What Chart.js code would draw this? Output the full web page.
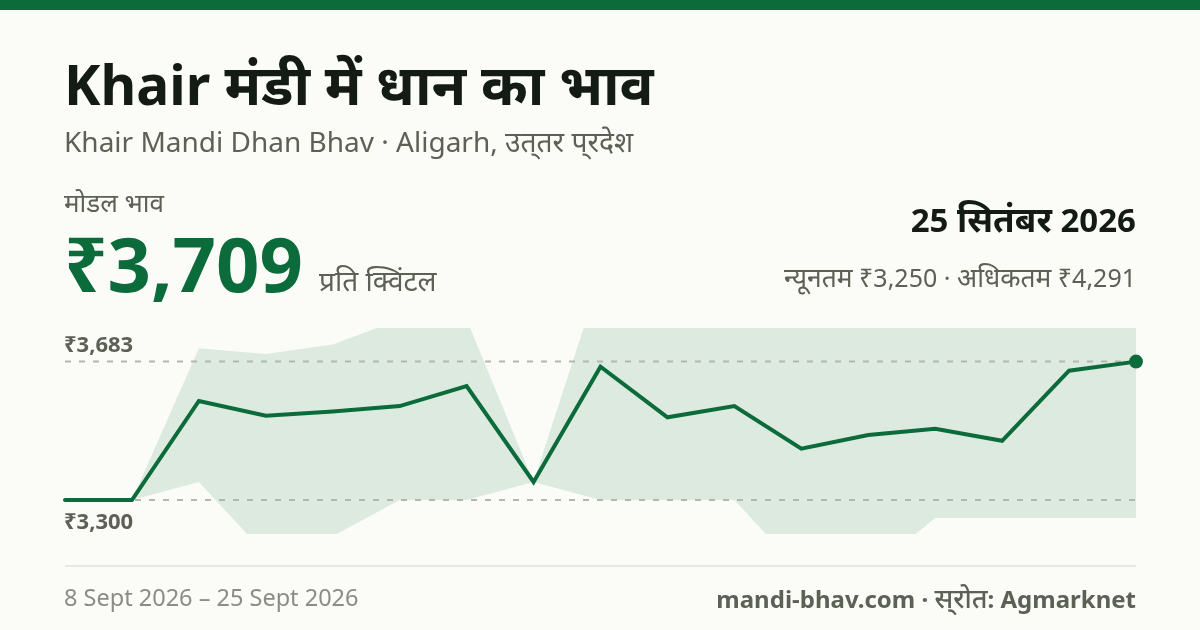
<!DOCTYPE html>
<html lang="hi">
<head>
<meta charset="utf-8">
<script src="https://cdn.jsdelivr.net/npm/chart.js@4"></script>
<style>
  html, body { margin: 0; padding: 0; }
  body { width: 1200px; height: 630px; background: #fbfcf8; position: relative; overflow: hidden; font-family: "Noto Sans", "Noto Sans Devanagari", sans-serif; }
  .abs { position: absolute; white-space: nowrap; line-height: 1; }
  #topbar { position: absolute; left: 0; top: 0; width: 1200px; height: 10px; background: #0b6b3a; }
  #wrap { position: absolute; left: 0; top: 0; width: 1200px; height: 630px; }
  #rule { position: absolute; left: 65px; top: 565px; width: 1071px; height: 2px; background: #e6e8e2; }
</style>
</head>
<body>
<div id="topbar"></div>
<div id="wrap"><canvas id="priceChart"></canvas></div>
<div class="abs" style="left:64px;top:56px;font-size:55px;font-weight:700;color:#141a14">Khair <span style="font-size:56.4px">मंडी में धान का भाव</span></div>
<div class="abs" style="left:64px;top:127px;font-size:28px;color:#5c6055">Khair Mandi Dhan Bhav · Aligarh, <span style="font-size:28.2px">उत्&zwnj;तर प्&zwnj;रदेश</span></div>
<div class="abs" style="left:64px;top:189px;font-size:26px;color:#5c6055">मोडल भाव</div>
<div class="abs" style="left:64px;top:225px;font-size:76px;font-weight:700;color:#0b6b3a">₹3,709</div>
<div class="abs" style="left:319px;top:266px;font-size:28px;color:#5c6055">प्रति क्विंटल</div>
<div class="abs" style="right:64px;top:201px;font-size:33px;font-weight:700;color:#141a14">25 <span style="font-size:35px">सितंबर</span> 2026</div>
<div class="abs" style="right:64px;top:264px;font-size:25px;color:#5c6055"><span style="font-size:26.4px">न्यूनतम</span> ₹3,250 · <span style="font-size:26.4px">अधिकतम</span> ₹4,291</div>
<div class="abs" style="left:64px;top:332px;font-size:22px;font-weight:700;color:#5c6055">₹3,683</div>
<div class="abs" style="left:64px;top:509px;font-size:22px;font-weight:700;color:#5c6055">₹3,300</div>
<div id="rule"></div>
<div class="abs" style="left:64px;top:586px;font-size:23.5px;color:#8a8d85">8 Sept 2026 – 25 Sept 2026</div>
<div class="abs" style="right:64px;top:584px;font-size:24px;font-weight:700;color:#5c6055">mandi-bhav.com · <span style="font-size:27px;font-weight:500">स्&zwnj;रोत</span>: Agmarknet</div>
<script>
// एक दिन का डेटा नहीं है, इसलिए 17 तारीखें
const dates = ['8 Sept','9 Sept','10 Sept','11 Sept','12 Sept','13 Sept','15 Sept','16 Sept','17 Sept','18 Sept','19 Sept','20 Sept','21 Sept','22 Sept','23 Sept','24 Sept','25 Sept'];
const modalPrice = [3300,3300,3574,3533,3545,3560,3615,3350,3669,3529,3560,3442,3480,3497,3464,3658,3683];
const minPrice = [3300,3300,3350,3150,3200,3300,3300,3350,3300,3300,3300,3100,3100,3250,3250,3250,3250];
const maxPrice = [3300,3300,3720,3704,3730,3800,3800,3350,3920,3900,3950,3900,3900,4000,4000,4200,4291];
const lowRef = dates.map(() => 3300);
const highRef = dates.map(() => 3683);
const yMin = 3206;
const yMax = 3776;

const green = '#0b6b3a';
const lastIdx = dates.length - 1;

new Chart(document.getElementById('priceChart'), {
  type: 'line',
  data: {
    labels: dates,
    datasets: [
      // रेखा सबसे ऊपर
      { data: modalPrice, borderColor: green, borderWidth: 4, tension: 0, fill: false, clip: false, order: 1,
        borderCapStyle: 'round', borderJoinStyle: 'miter',
        pointRadius: ctx => ctx.dataIndex === lastIdx ? 7 : 0,
        pointBackgroundColor: green, pointBorderWidth: 0 },
      { data: highRef, borderColor: '#b4b7ae', borderWidth: 2, borderDash: [6, 8], pointRadius: 0, fill: false, order: 2 },
      { data: lowRef, borderColor: '#b4b7ae', borderWidth: 2, borderDash: [6, 8], pointRadius: 0, fill: false, order: 2 },
      { data: maxPrice, borderWidth: 0, pointRadius: 0, tension: 0, fill: '+1', backgroundColor: 'rgba(11,107,58,0.12)', order: 3 },
      { data: minPrice, borderWidth: 0, pointRadius: 0, tension: 0, fill: false, order: 3 }
    ]
  },
  options: {
    responsive: true,
    maintainAspectRatio: false,
    animation: false,
    layout: { padding: { left: 65, right: 64, top: 328, bottom: 96 } },
    plugins: { legend: { display: false }, tooltip: { enabled: false } },
    scales: {
      x: { display: false, offset: false },
      y: { display: false, min: yMin, max: yMax }
    }
  }
});
</script>
</body>
</html>
